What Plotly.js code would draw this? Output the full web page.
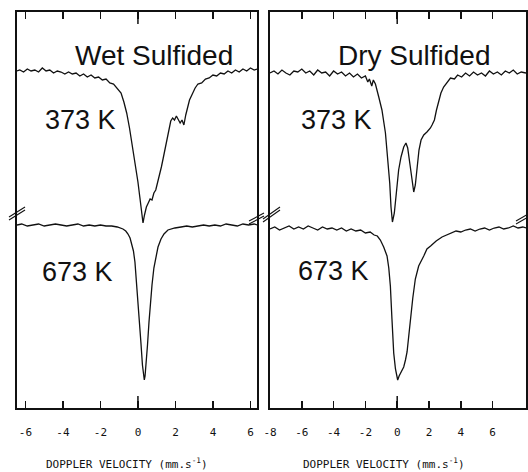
<!DOCTYPE html>
<html>
<head>
<meta charset="utf-8">
<script src="https://cdn.plot.ly/plotly-3.0.1.min.js"></script>
<style>html,body{margin:0;padding:0;background:#fff;}#chart{width:528px;height:472px;}</style>
</head>
<body>
<div id="chart"></div>
<script>
// Doppler velocity (mm/s) and relative transmission (arbitrary units, spectra offset as in the figure)
const wet373V = [-6.45,-6.3,-6.1,-5.9,-5.7,-5.5,-5.3,-5.1,-4.9,-4.7,-4.5,-4.3,-4.1,-3.9,-3.7,-3.5,-3.3,-3.1,-2.9,-2.7,-2.5,-2.3,-2.1,-1.9,-1.7,-1.5,-1.3,-1.1,-0.9,-0.75,-0.6,-0.45,-0.3,-0.15,0.0,0.1,0.2,0.27,0.35,0.45,0.55,0.65,0.75,0.85,0.95,1.05,1.15,1.25,1.35,1.45,1.55,1.65,1.75,1.85,1.95,2.05,2.15,2.25,2.35,2.45,2.55,2.65,2.75,2.9,3.05,3.2,3.4,3.6,3.8,4.0,4.2,4.4,4.6,4.8,5.0,5.2,5.4,5.6,5.8,6.0,6.2,6.35];
const wet373T = [337,338,336,339,337,338,336,340,337,338,335,337,336,334,336,334,335,332,334,331,333,330,331,328,329,325,324,320,315,306,295,280,263,245,226,211,196,185,193,201,205,209,208,215,218,225,232,241,250,260,270,280,287,290,288,292,289,285,288,283,293,301,308,314,320,324,325,329,330,333,332,335,334,337,335,338,336,339,337,340,338,339];

const wet673V = [-6.45,-6.2,-5.9,-5.6,-5.3,-5.0,-4.7,-4.4,-4.1,-3.8,-3.5,-3.2,-2.9,-2.6,-2.3,-2.0,-1.7,-1.4,-1.1,-0.8,-0.65,-0.53,-0.42,-0.32,-0.24,-0.16,-0.08,0.0,0.08,0.16,0.24,0.3,0.34,0.38,0.43,0.51,0.59,0.67,0.75,0.85,0.96,1.07,1.23,1.39,1.6,1.97,2.3,2.6,2.9,3.2,3.5,3.8,4.1,4.4,4.7,5.0,5.3,5.6,5.9,6.2,6.35];
const wet673T = [183,184,182,183,184,182,183,184,183,182,183,184,182,183,182,183,182,182,181,179,177,174,170,164,157,146,128,108,88,65,43,32,28,32,42,63,86,106,123,140,152,161,169,174,178,180,181,182,181,182,183,182,183,182,184,183,182,184,183,184,183];

const dry373V = [-8.0,-7.75,-7.5,-7.25,-7.0,-6.75,-6.5,-6.25,-6.0,-5.75,-5.5,-5.25,-5.0,-4.75,-4.5,-4.25,-4.0,-3.75,-3.5,-3.25,-3.0,-2.75,-2.5,-2.25,-2.0,-1.85,-1.75,-1.6,-1.5,-1.37,-1.16,-0.96,-0.74,-0.6,-0.47,-0.39,-0.3,-0.18,-0.05,0.09,0.24,0.41,0.55,0.66,0.79,0.91,1.04,1.14,1.25,1.37,1.5,1.67,1.87,2.09,2.19,2.34,2.47,2.61,2.75,2.92,3.13,3.35,3.6,3.8,4.05,4.3,4.55,4.8,5.05,5.3,5.55,5.8,6.05,6.3,6.55,6.8,7.05,7.3,7.55,7.8,8.1];
const dry373T = [335,337,334,338,335,333,337,336,339,335,337,333,338,335,336,332,337,334,336,332,335,331,334,330,332,326,329,322,328,324,311,298,275,251,225,201,186,195,215,238,251,261,265,260,245,228,216,223,241,258,268,273,276,280,283,288,298,308,315,321,326,330,329,333,331,335,332,336,333,335,332,337,334,336,333,337,335,338,334,336,335];

const dry673V = [-8.0,-7.7,-7.4,-7.1,-6.8,-6.5,-6.2,-5.9,-5.6,-5.3,-5.0,-4.7,-4.4,-4.1,-3.8,-3.5,-3.2,-2.9,-2.6,-2.3,-2.0,-1.7,-1.45,-1.25,-1.06,-0.85,-0.64,-0.53,-0.43,-0.33,-0.22,-0.11,-0.03,0.03,0.12,0.25,0.41,0.52,0.62,0.72,0.83,0.98,1.14,1.35,1.67,1.87,2.1,2.45,2.82,3.1,3.43,3.7,4.0,4.3,4.6,4.9,5.2,5.5,5.8,6.1,6.4,6.7,7.0,7.3,7.6,7.9,8.1];
const dry673T = [179,181,178,180,182,179,181,179,182,180,178,181,179,180,178,180,177,179,177,178,175,176,173,172,168,161,152,140,122,89,55,39,31,28,32,36,41,48,56,71,89,110,129,142,152,159,162,167,171,173,175,177,176,178,179,177,179,180,178,180,181,179,180,182,180,181,180];

const leftTicks = [-6,-4,-2,0,2,4,6];
const leftTickText = ['-6','-4','-2','0','2','4','6'];
const rightTicks = [-8,-6,-4,-2,0,2,4,6];
const rightTickText = ['-8','-6','-4','-2','0','2','4','6'];

const panelLabels = ['Wet Sulfided','Dry Sulfided'];
const tempLabels = ['373 K','673 K'];
const axisTitle = 'DOPPLER VELOCITY (mm.s<sup>-1</sup>)';

// pixel -> paper helpers for decorations
const M = {l:17, r:2, t:12, b:64};
const W = 528, H = 472;
const PW = W - M.l - M.r, PH = H - M.t - M.b;
const px = x => (x - M.l) / PW;
const py = y => (H - M.b - y) / PH;

const lineStyle = {color:'#111', width:1.3};
const traces = [
  {x:wet373V, y:wet373T, xaxis:'x', yaxis:'y', mode:'lines', line:lineStyle, name:'Wet 373 K'},
  {x:wet673V, y:wet673T, xaxis:'x', yaxis:'y', mode:'lines', line:lineStyle, name:'Wet 673 K'},
  {x:dry373V, y:dry373T, xaxis:'x2', yaxis:'y2', mode:'lines', line:lineStyle, name:'Dry 373 K'},
  {x:dry673V, y:dry673T, xaxis:'x2', yaxis:'y2', mode:'lines', line:lineStyle, name:'Dry 673 K'}
];

const tickFont = {family:'DejaVu Sans Mono', size:11, color:'#111'};
const xCommon = {
  showline:true, linecolor:'#111', linewidth:1.6, mirror:'ticks',
  ticks:'inside', ticklen:7, tickwidth:1.5, tickcolor:'#111',
  showgrid:false, zeroline:false, tickfont:tickFont, ticklabelstandoff:13
};
const yCommon = {
  range:[0,396], showline:true, linecolor:'#111', linewidth:1.6, mirror:true,
  ticks:'', showticklabels:false, showgrid:false, zeroline:false
};

function breakMark(x0,y0,x1,y1){
  return [0,3].map(d => ({type:'line', xref:'paper', yref:'paper',
    x0:px(x0), y0:py(y0+d), x1:px(x1), y1:py(y1+d), line:{color:'#111', width:1.1}}));
}
const shapes = [
  {type:'line', xref:'x', yref:'y', x0:0, x1:0, y0:0, y1:12, line:{color:'#111', width:1.5}},
  {type:'line', xref:'x', yref:'y', x0:0, x1:0, y0:384, y1:396, line:{color:'#111', width:1.5}},
  {type:'line', xref:'x2', yref:'y2', x0:0, x1:0, y0:0, y1:12, line:{color:'#111', width:1.5}},
  {type:'line', xref:'x2', yref:'y2', x0:0, x1:0, y0:384, y1:396, line:{color:'#111', width:1.5}},
  ...breakMark(9,217,25,207),
  ...breakMark(249,221,264,213),
  ...breakMark(263,219,280,207),
  ...breakMark(516,221,530,213)
];

const bigFont = {family:'Liberation Sans, Arial, sans-serif', size:28, color:'#111'};
const tFont = {family:'Liberation Sans, Arial, sans-serif', size:27, color:'#111'};
const annotations = [
  {xref:'x', yref:'y', x:-3.47, y:353, text:panelLabels[0], showarrow:false, xanchor:'left', yanchor:'middle', font:bigFont},
  {xref:'x', yref:'y', x:-5.07, y:288, text:tempLabels[0], showarrow:false, xanchor:'left', yanchor:'middle', font:tFont},
  {xref:'x', yref:'y', x:-5.23, y:136, text:tempLabels[1], showarrow:false, xanchor:'left', yanchor:'middle', font:tFont},
  {xref:'x2', yref:'y2', x:-3.87, y:353, text:panelLabels[1], showarrow:false, xanchor:'left', yanchor:'middle', font:bigFont},
  {xref:'x2', yref:'y2', x:-6.19, y:288, text:tempLabels[0], showarrow:false, xanchor:'left', yanchor:'middle', font:tFont},
  {xref:'x2', yref:'y2', x:-6.38, y:137, text:tempLabels[1], showarrow:false, xanchor:'left', yanchor:'middle', font:tFont},
  {xref:'paper', yref:'paper', x:px(127), y:py(463), text:axisTitle, showarrow:false, xanchor:'center', yanchor:'middle', font:tickFont},
  {xref:'paper', yref:'paper', x:px(384), y:py(463), text:axisTitle, showarrow:false, xanchor:'center', yanchor:'middle', font:tickFont}
];

const layout = {
  width:W, height:H, margin:M, showlegend:false,
  paper_bgcolor:'#fff', plot_bgcolor:'#fff',
  xaxis:Object.assign({}, xCommon, {domain:[0, px(257)], range:[-6.45, 6.35], tickvals:leftTicks, ticktext:leftTickText, anchor:'y'}),
  yaxis:Object.assign({}, yCommon, {domain:[0,1], anchor:'x'}),
  xaxis2:Object.assign({}, xCommon, {domain:[px(270), 1], range:[-8.0, 8.1], tickvals:rightTicks, ticktext:rightTickText, anchor:'y2'}),
  yaxis2:Object.assign({}, yCommon, {domain:[0,1], anchor:'x2'}),
  shapes:shapes, annotations:annotations
};

Plotly.newPlot('chart', traces, layout, {staticPlot:true, displayModeBar:false});
</script>
</body>
</html>
